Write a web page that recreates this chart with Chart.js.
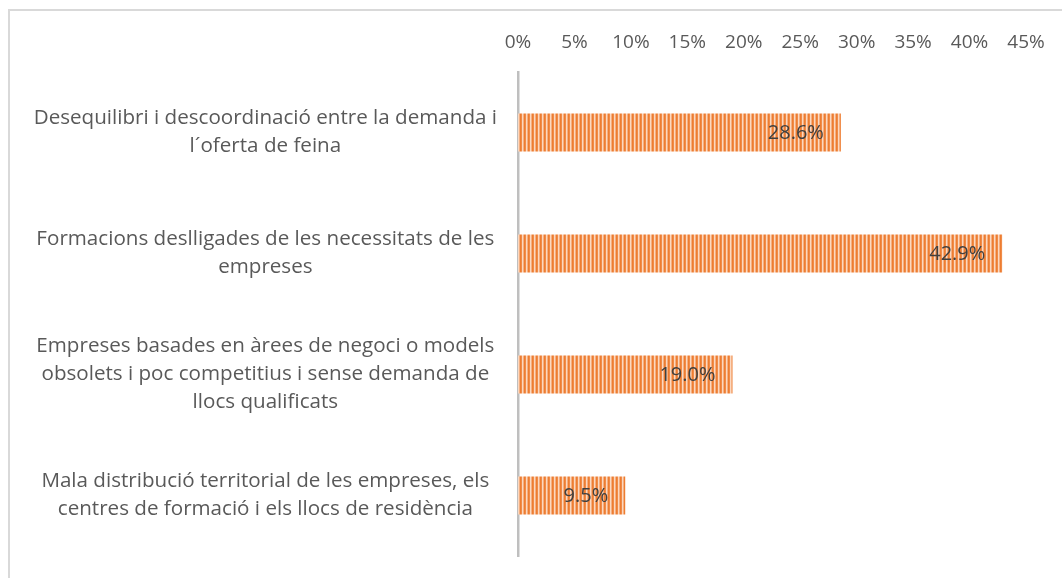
<!DOCTYPE html>
<html>
<head>
<meta charset="utf-8">
<script src="https://cdn.jsdelivr.net/npm/chart.js@4.4.0/dist/chart.umd.min.js"></script>
<style>
  html, body { margin: 0; padding: 0; background: #fff; overflow: hidden; }
  #wrap { position: relative; width: 1062px; height: 578px; }
  #frame { position: absolute; left: 8px; top: 9px; width: 1200px; height: 700px;
           border-left: 2px solid #d9d9d9; border-top: 2px solid #d9d9d9; }
  canvas { position: absolute; left: 0; top: 0; }
</style>
</head>
<body>
<div id="wrap">
  <div id="frame"></div>
  <canvas id="chart" width="1062" height="578"></canvas>
</div>
<script>
// categories (each one split into the lines shown on the axis)
const categories = [
    ["Desequilibri i descoordinació entre la demanda i", "l´oferta de feina"],
    ["Formacions deslligades de les necessitats de les", "empreses"],
    ["Empreses basades en àrees de negoci o models", "obsolets i poc competitius i sense demanda de", "llocs qualificats"],
    ["Mala distribució territorial de les empreses, els", "centres de formació i els llocs de residència"]
];
const values = [28.6, 42.9, 19.0, 9.5];
const xTicks = [0, 5, 10, 15, 20, 25, 30, 35, 40, 45];

const FONT = "'Open Sans', sans-serif";

// striped orange fill like the excel pattern
const makeStripes = () => {
    const c = document.createElement("canvas");
    c.width = 4;
    c.height = 1;
    const g = c.getContext("2d");
    const cols = ["#ED7D31", "#F08C4A", "#FBD8C0", "#F5AF80"];
    cols.forEach((col, i) => {
        g.fillStyle = col;
        g.fillRect(i, 0, 1, 1);
    });
    return g.createPattern(c, "repeat");
};

const barLabels = {
    id: "barLabels",
    afterDatasetsDraw(chart) {
        const ctx = chart.ctx;
        const meta = chart.getDatasetMeta(0);
        ctx.save();
        ctx.font = "20px " + FONT;
        ctx.fillStyle = "#404040";
        ctx.textAlign = "right";
        ctx.textBaseline = "middle";
        meta.data.forEach((bar, i) => {
            ctx.fillText(values[i].toFixed(1) + "%", bar.x - 17, bar.y + 1);
        });
        ctx.restore();
    }
};

const ctx = document.getElementById("chart").getContext("2d");
new Chart(ctx, {
    type: "bar",
    data: {
        labels: categories,
        datasets: [{
            data: values,
            backgroundColor: makeStripes(),
            borderWidth: 0,
            categoryPercentage: 1,
            barPercentage: 0.315
        }]
    },
    options: {
        indexAxis: "y",
        responsive: false,
        animation: false,
        layout: { padding: { top: 0, left: 0, right: 36, bottom: 22 } },
        plugins: {
            legend: { display: false },
            tooltip: { enabled: false }
        },
        scales: {
            x: {
                position: "top",
                min: 0,
                max: 45,
                afterBuildTicks: (scale) => {
                    scale.ticks = xTicks.map((v) => ({ value: v }));
                },
                afterFit: (scale) => {
                    scale.height = 72;
                    scale.paddingLeft = 0;
                    scale.paddingRight = 0;
                },
                grid: { display: false, drawTicks: false },
                border: { display: false },
                ticks: {
                    padding: 18,
                    color: "#595959",
                    font: { family: FONT, size: 19 },
                    maxRotation: 0,
                    autoSkip: false,
                    callback: (v) => v + "%"
                }
            },
            y: {
                afterFit: (scale) => {
                    scale.width = 518;
                    scale.paddingTop = 0;
                    scale.paddingBottom = 0;
                },
                grid: { display: false, drawTicks: false },
                border: { display: true, color: "#bfbfbf", width: 2.5 },
                ticks: {
                    padding: 21,
                    crossAlign: "center",
                    color: "#595959",
                    font: { family: FONT, size: 20.6, lineHeight: "28px" }
                }
            }
        }
    },
    plugins: [barLabels]
});
</script>
</body>
</html>
